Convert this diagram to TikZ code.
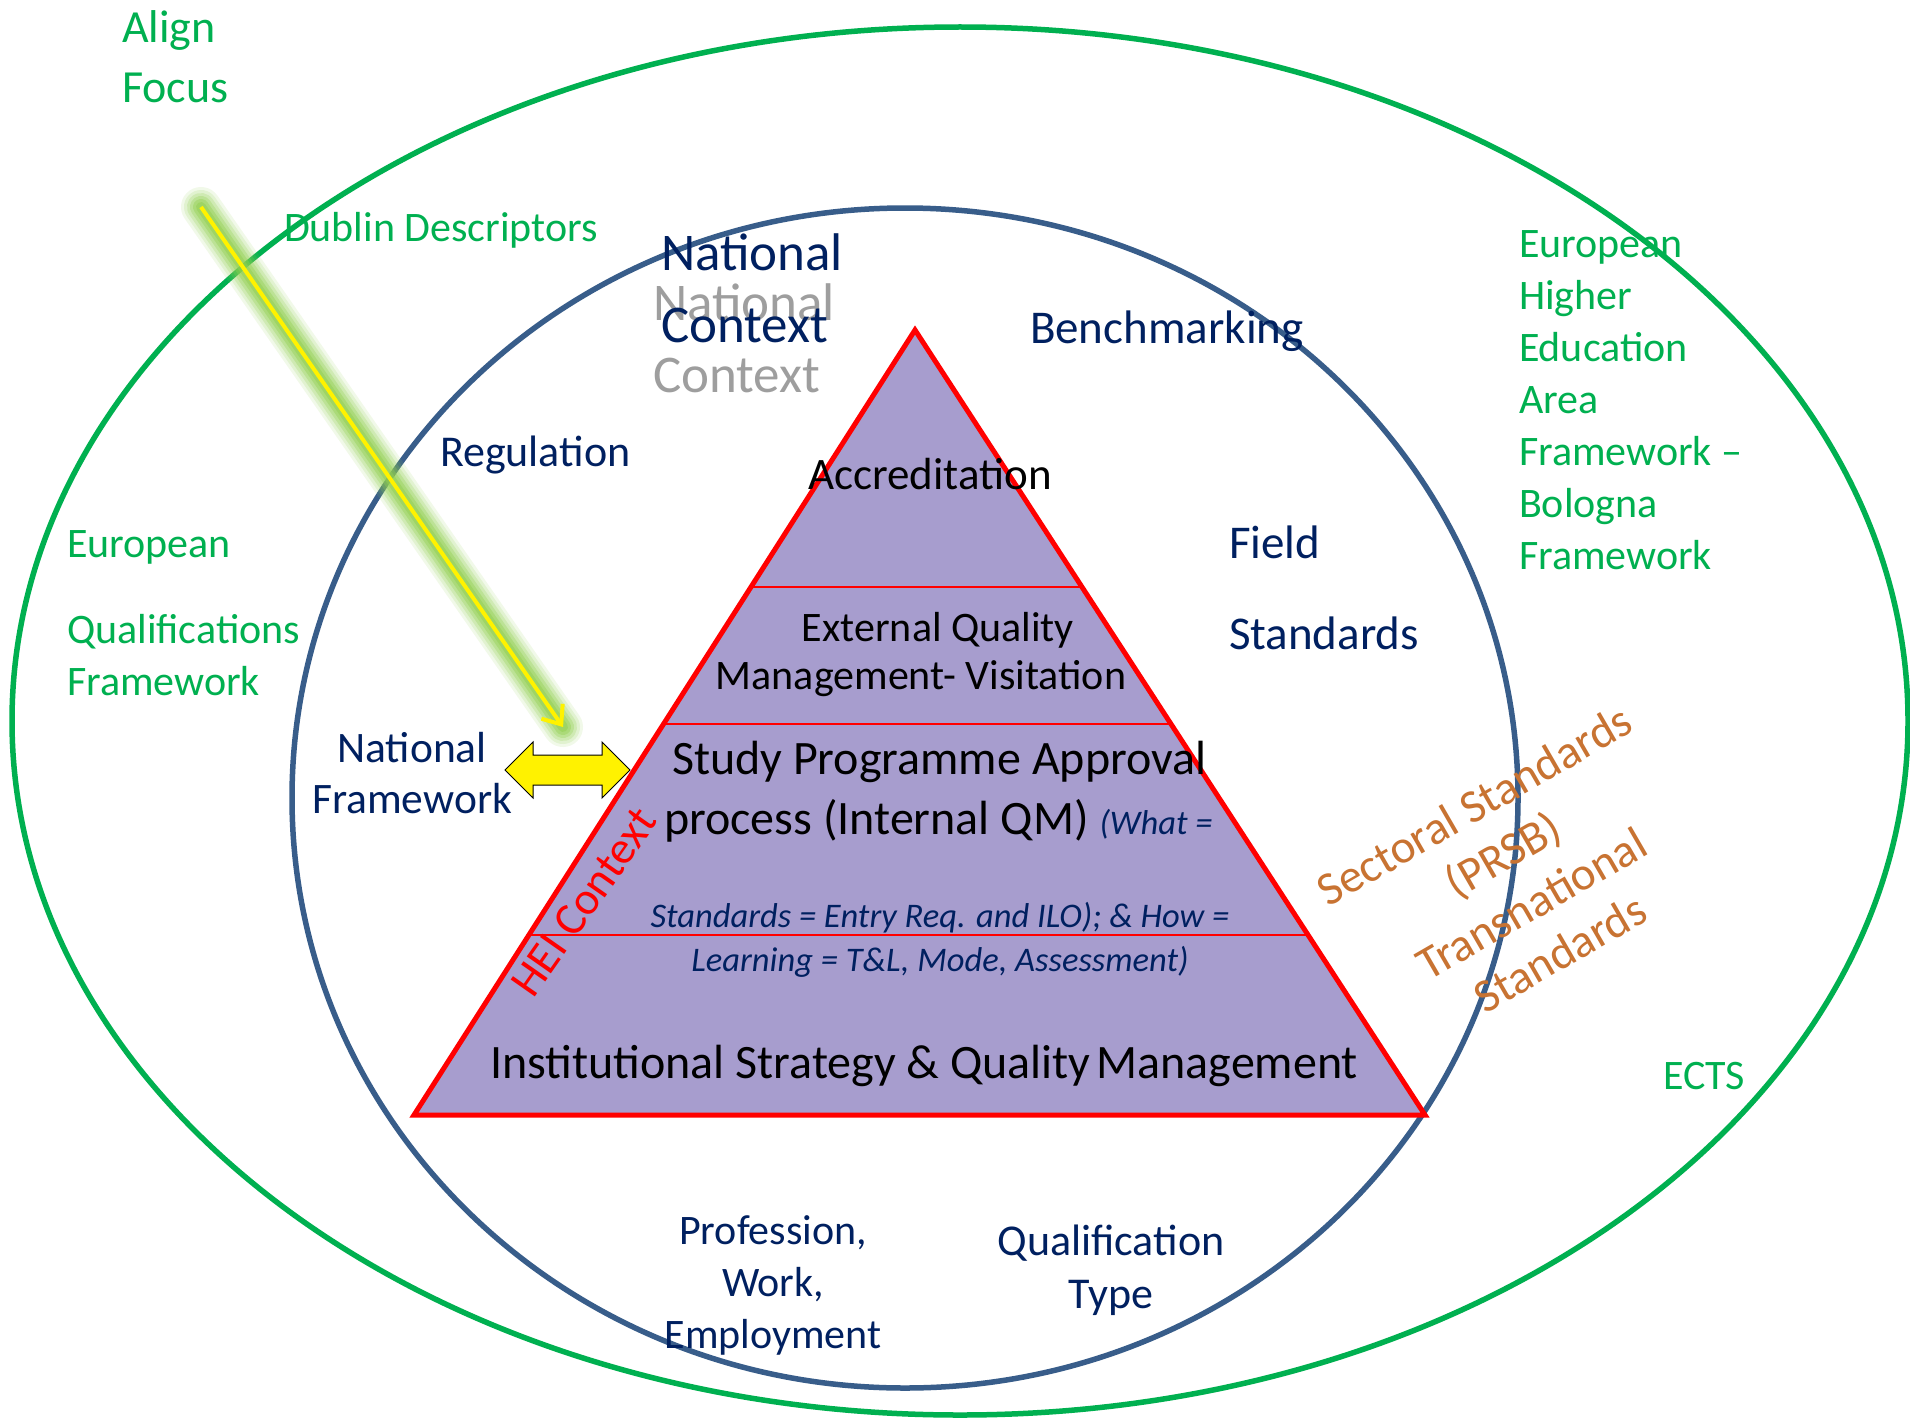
\documentclass[tikz,border=0pt]{standalone}
\usepackage{fontspec}
\setmainfont{Carlito}
\usetikzlibrary{arrows.meta,calc}
\definecolor{offgreen}{RGB}{0,176,80}
\definecolor{navy}{RGB}{0,32,96}
\definecolor{ellblue}{RGB}{56,93,138}
\definecolor{lav}{RGB}{167,157,206}
\definecolor{glowgreen}{RGB}{146,208,80}
\definecolor{sectorange}{RGB}{200,115,50}
\definecolor{shadowgray}{RGB}{158,158,158}
\begin{document}
\begin{tikzpicture}[x=1pt,y=-1pt,
  lbl/.style={inner sep=0pt, outer sep=0pt},
  grn/.style={lbl, text=offgreen, align=left, font=\fontsize{42}{52}\selectfont},
  nvy/.style={lbl, text=navy, font=\fontsize{43}{52}\selectfont},
  blk/.style={lbl, text=black, font=\fontsize{48}{57}\selectfont},
  ital/.style={lbl, text=navy, font=\fontsize{34.5}{44}\selectfont\itshape},
  divider/.style={red, line width=1.8pt},
]
\useasboundingbox (0,0) rectangle (1910,1418);
\fill[white] (0,0) rectangle (1910,1418);

% ellipses
\draw[offgreen, line width=5.5pt] (960,721) ellipse [x radius=948pt, y radius=694pt];
\draw[ellblue, line width=5.5pt] (905,798) ellipse [x radius=613pt, y radius=590pt];

% pyramid
\coordinate (apex) at (915,330);
\coordinate (bl) at (414,1115);
\coordinate (br) at (1425,1115);
\fill[lav] (apex) -- (bl) -- (br) -- cycle;
\draw[divider] ($(apex)!0.3274!(bl)$) -- ($(apex)!0.3274!(br)$);
\draw[divider] ($(apex)!0.5019!(bl)$) -- ($(apex)!0.5019!(br)$);
\draw[divider] ($(apex)!0.7707!(bl)$) -- ($(apex)!0.7707!(br)$);
\draw[red, line width=5pt, line join=miter] (apex) -- (bl) -- (br) -- cycle;

% green texts
\node[grn, font=\fontsize{46}{60}\selectfont, anchor=west] (alignfocus) at (122,57) {Align\\Focus};
\node[grn, anchor=west] (dublin) at (284,230) {Dublin Descriptors};
\node[grn, anchor=west] (eqf) at (67,613) {European\\[34pt]Qualifications\\Framework};
\node[grn, anchor=west] (ehea) at (1519,400) {European\\Higher\\Education\\Area\\Framework –\\Bologna\\Framework};
\node[grn, anchor=west] (ects) at (1663,1076) {ECTS};

% navy texts
\node[lbl, text=shadowgray, font=\fontsize{53}{72}\selectfont, align=left, anchor=west] (natshadow) at (653,338) {National\\Context};
\node[lbl, text=navy, font=\fontsize{53}{72}\selectfont, align=left, anchor=west] (natctx) at (661,288) {National\\Context};
\node[nvy, font=\fontsize{47}{57}\selectfont, anchor=west] (bench) at (1030,331) {Benchmarking};
\node[nvy, font=\fontsize{44}{52}\selectfont, anchor=west] (reg) at (440,455) {Regulation};
\node[nvy, font=\fontsize{47}{91}\selectfont, align=left, anchor=west] (field) at (1229,588) {Field\\Standards};
\node[nvy, font=\fontsize{43.5}{51}\selectfont, align=center] (natfw) at (412,773) {National\\Framework};
\node[nvy, font=\fontsize{42}{52}\selectfont, align=center] (prof) at (773,1285) {Profession,\\Work,\\Employment};
\node[nvy, font=\fontsize{44}{53}\selectfont, align=center] (qual) at (1111,1270) {Qualification\\Type};

% pyramid texts
\node[blk, font=\fontsize{45}{55}\selectfont, anchor=west] (accr) at (808,474) {Accreditation};
\node[blk, font=\fontsize{42}{48}\selectfont, align=center] (eqm) at (921,655) {\hspace*{34pt}External Quality\\Management- Visitation};
\node[blk, anchor=west] (spa) at (672,762) {Study Programme Approval};
\node[blk, anchor=west] (proc) at (664,821) {process (Internal QM) {\color{navy}\fontsize{34.5}{44}\selectfont\itshape (What =}};
\node[ital, align=center] (what) at (940,940) {Standards = Entry Req. and ILO); \& How =\\Learning = T\&L, Mode, Assessment)};
\node[blk, anchor=west] (inst) at (490,1066) {Institutional Strategy \& Quality\hspace{6pt}Management};
\node[lbl, text=red, font=\fontsize{46}{55}\selectfont, rotate=55] (hei) at (584,902) {HEI Context};

% sectoral
\node[lbl, text=sectorange, font=\fontsize{47}{57}\selectfont, align=center, rotate=30] (sect) at (1517,879) {Sectoral Standards\\(PRSB)\\Transnational\\Standards};

% glowing arrow
\coordinate (gs) at (201,207);
\coordinate (ge) at (563,727);
\foreach \w/\o in {40/0.12,34/0.16,28/0.22,22/0.3,16/0.4,10/0.5}
  \draw[glowgreen, line width=\w pt, opacity=\o, line cap=round] (gs) -- (ge);
\draw[yellow, line width=4pt, -{Straight Barb[length=16pt,width=26pt]}] (gs) -- (ge);

% double block arrow
\draw[fill=yellow, draw=black, line width=1pt, line join=miter]
  (505,770) -- (533,742) -- (533,755) -- (602,755) -- (602,742) -- (630,770)
  -- (602,798) -- (602,785) -- (533,785) -- (533,798) -- cycle;
\end{tikzpicture}
\end{document}
